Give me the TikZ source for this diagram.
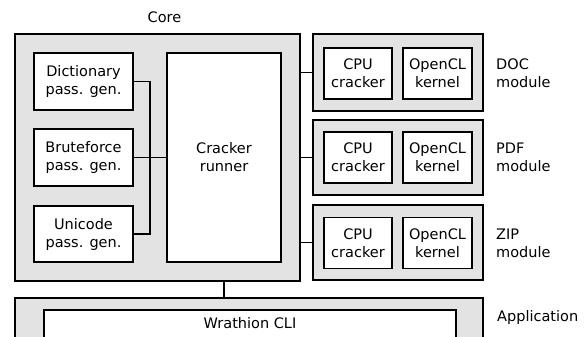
\documentclass[tikz,border=0pt]{standalone}
\usepackage{fontspec}
\setmainfont{DejaVu Sans}
\begin{document}
\begin{tikzpicture}[x=1pt,y=-1pt,
  font=\fontsize{14.5}{18}\selectfont,
  outer/.style={draw=black,line width=1.8pt,fill=black!11,inner sep=0pt},
  inner/.style={draw=black,line width=1.8pt,fill=white,inner sep=0pt,align=center},
  lab/.style={inner sep=0pt,align=left,anchor=west},
  conn/.style={draw=black,line width=1.8pt}]
\clip (0,0) rectangle (587,337);
\useasboundingbox (0,0) rectangle (587,337);
% Core
\node[outer,minimum width=285pt,minimum height=247pt] (core) at (157.5,157.5) {};
\node[inner sep=0pt] (corelab) at (164.5,17) {Core};
\node[inner,minimum width=99pt,minimum height=57pt] (dict) at (83.5,81.5) {Dictionary\\pass. gen.};
\node[inner,minimum width=99pt,minimum height=57pt] (brute) at (83.5,157.5) {Bruteforce\\pass. gen.};
\node[inner,minimum width=99pt,minimum height=56pt] (uni) at (83.5,234) {Unicode\\pass. gen.};
\node[inner,minimum width=114pt,minimum height=209pt] (runner) at (224,157.5) {Cracker\\runner};
\coordinate (bus) at (150,157.5);
\draw[conn] (dict.east) -| (bus);
\draw[conn] (uni.east) -| (bus);
\draw[conn] (brute.east) -- (runner.west);
% Modules
\node[outer,minimum width=170pt,minimum height=77pt] (doc) at (398,72.5) {};
\node[outer,minimum width=170pt,minimum height=75pt] (pdf) at (398,157.5) {};
\node[outer,minimum width=170pt,minimum height=75pt] (zip) at (398,242.5) {};
\node[inner,minimum width=68pt,minimum height=51pt] (doccpu) at (358,73.5) {CPU\\cracker};
\node[inner,minimum width=69pt,minimum height=51pt] (doccl) at (437.5,73.5) {OpenCL\\kernel};
\node[inner,minimum width=68pt,minimum height=51pt] (pdfcpu) at (358,157.5) {CPU\\cracker};
\node[inner,minimum width=69pt,minimum height=51pt] (pdfcl) at (437.5,157.5) {OpenCL\\kernel};
\node[inner,minimum width=68pt,minimum height=51pt] (zipcpu) at (358,243) {CPU\\cracker};
\node[inner,minimum width=69pt,minimum height=51pt] (zipcl) at (437.5,243) {OpenCL\\kernel};
\node[lab] (doclab) at (496,73) {DOC\\module};
\node[lab] (pdflab) at (496,157) {PDF\\module};
\node[lab] (ziplab) at (496,243) {ZIP\\module};
\draw[conn] (core.east |- doc.west) -- (doc.west);
\draw[conn] (core.east |- pdf.west) -- (pdf.west);
\draw[conn] (core.east |- zip.west) -- (zip.west);
% Application
\node[outer,minimum width=468pt,minimum height=84pt] (app) at (249,340) {};
\node[inner,minimum width=412pt,minimum height=70pt] (cli) at (250,345) {};
\node[inner sep=0pt] (clilab) at (250,323) {Wrathion CLI};
\node[lab] (applab) at (497,317) {Application};
\draw[conn] (runner.south |- core.south) -- (runner.south |- app.north);
\end{tikzpicture}
\end{document}
